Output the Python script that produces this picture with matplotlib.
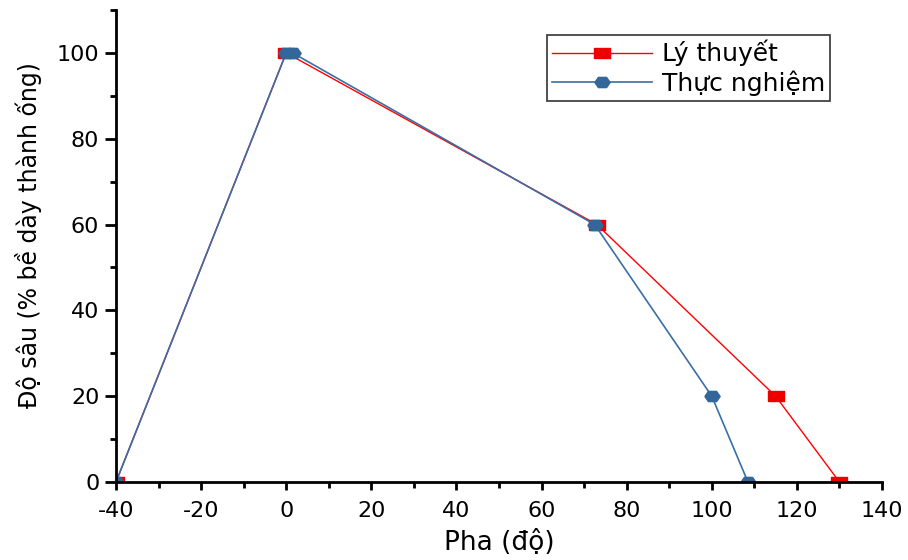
import matplotlib
matplotlib.use("Agg")
import matplotlib.pyplot as plt
from matplotlib.ticker import MultipleLocator

plt.rcParams['font.family'] = ['DejaVu Sans']
plt.rcParams['axes.unicode_minus'] = False

theory_x = [-40, 0, 73, 115, 130]
theory_y = [0, 100, 60, 20, 0]
exp_x = [-40, 0, 1.5, 72.5, 100, 108.5]
exp_y = [0, 100, 100, 60, 20, 0]

# wide (horizontally stretched) marker shapes
sq_marker = [(-1.4, -1), (1.4, -1), (1.4, 1), (-1.4, 1), (-1.4, -1)]
hex_marker = [(-1.5, 0), (-0.8, 1), (0.8, 1), (1.5, 0), (0.8, -1), (-0.8, -1), (-1.5, 0)]

fig = plt.figure(figsize=(9.08, 5.6), dpi=100)
ax = fig.add_axes([116/908, 1-482/560, (882-116)/908, (482-10)/560])

ax.plot(theory_x, theory_y, color='#ff0000', lw=1, marker=sq_marker, ms=11,
        markerfacecolor='#ee0000', markeredgecolor='#ee0000', label='Lý thuyết', zorder=3)
ax.plot(exp_x, exp_y, color='#3a6ea5', lw=1.2, marker=hex_marker, ms=11,
        markerfacecolor='#336699', markeredgecolor='#336699', label='Thực nghiệm', zorder=4)

ax.set_xlim(-40, 140)
ax.set_ylim(0, 110)
ax.xaxis.set_major_locator(MultipleLocator(20))
ax.xaxis.set_minor_locator(MultipleLocator(10))
ax.yaxis.set_major_locator(MultipleLocator(20))
ax.yaxis.set_minor_locator(MultipleLocator(10))
for s in ['top', 'right']:
    ax.spines[s].set_visible(False)
for s in ['left', 'bottom']:
    ax.spines[s].set_linewidth(2)
    ax.spines[s].set_zorder(5)
ax.tick_params(axis='x', which='major', direction='out', length=6, width=2, labelsize=16, pad=8)
ax.tick_params(axis='y', which='major', direction='out', length=8, width=2, labelsize=16, pad=4)
ax.tick_params(which='minor', direction='out', length=4, width=2)

ax.set_xlabel('Pha (độ)', fontsize=19, labelpad=6)
ax.set_ylabel('Độ sâu (% bề dày thành ống)', fontsize=17)
ax.yaxis.set_label_coords(-0.097, 0.523)

leg = ax.legend(loc='upper right', fontsize=18, frameon=True, fancybox=False, edgecolor='black',
                handlelength=4.0, borderpad=0.2, labelspacing=0.15, handletextpad=0.4,
                borderaxespad=0)
leg.get_frame().set_linewidth(1.2)
leg.set_bbox_to_anchor((830/908, 1-35/560), transform=fig.transFigure)

fig.savefig('out.png', dpi=100)
